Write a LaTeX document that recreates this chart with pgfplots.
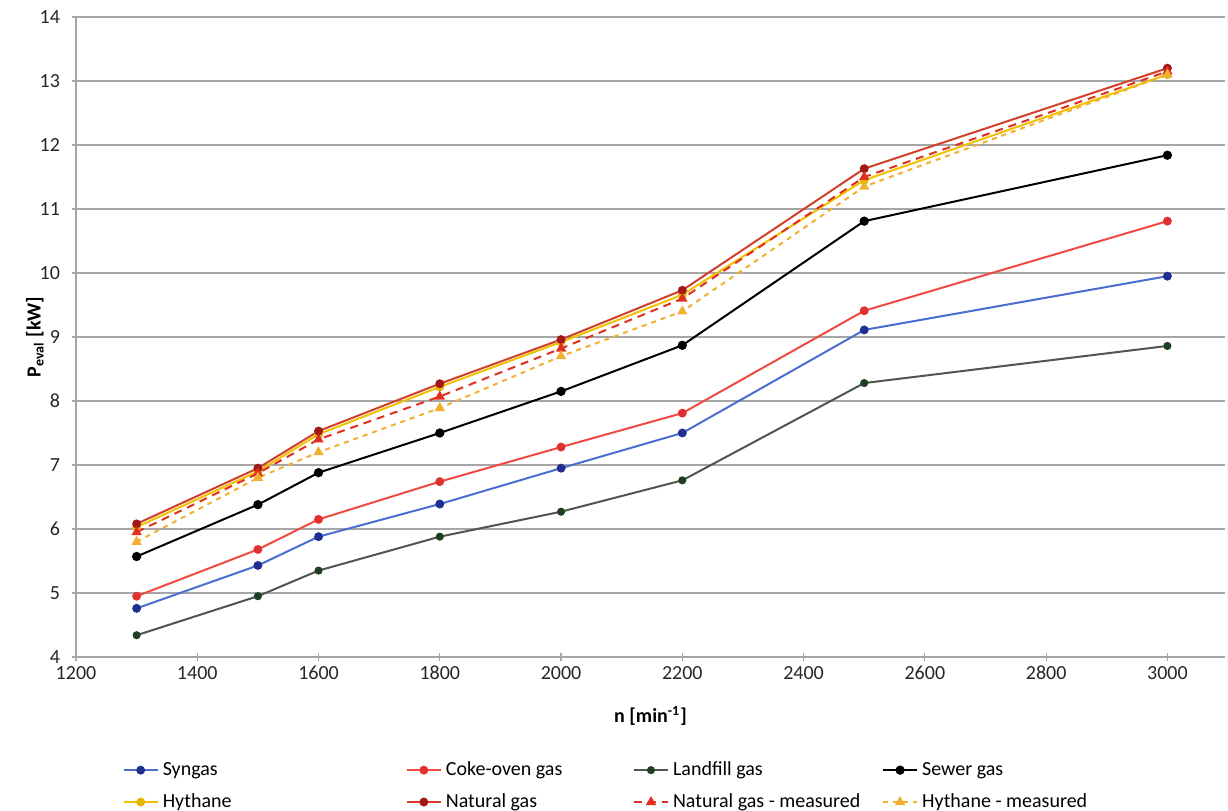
\documentclass[border=0pt]{standalone}
\usepackage{fontspec}
\setmainfont{Carlito}
\usepackage{pgfplots}
\pgfplotsset{compat=1.18}
\definecolor{gridgray}{HTML}{A6A6A6}
\definecolor{synline}{HTML}{4A6ED0}
\definecolor{synmark}{HTML}{1F2F8F}
\definecolor{cokeline}{HTML}{F04A40}
\definecolor{cokemark}{HTML}{E03030}
\definecolor{landline}{HTML}{505550}
\definecolor{landmark}{HTML}{1E4020}
\definecolor{hythline}{HTML}{F2C200}
\definecolor{hythmark}{HTML}{E8B400}
\definecolor{natline}{HTML}{D0402A}
\definecolor{natmark}{HTML}{A01818}
\definecolor{natmeas}{HTML}{E03020}
\definecolor{hythmeas}{HTML}{F2B030}
\begin{document}
\begin{tikzpicture}
\begin{axis}[name=ax, scale only axis, width=574.5pt, height=320pt,
 xmin=1200, xmax=3095, ymin=4, ymax=14,
 axis lines=left, axis line style={-, gridgray, line width=1.2pt},
 xtick={1200,1400,...,3000}, ytick={4,5,...,14},
 ymajorgrids, major grid style={gridgray, line width=1.2pt},
 tick style={gridgray, line width=0.6pt}, tick align=center, major tick length=4pt,
 /pgf/number format/assume math mode=true, /pgf/number format/1000 sep={},
 ticklabel style={font=\fontsize{10}{12}\selectfont, text=black!85},
 xticklabel style={yshift=1pt},
 yticklabel style={xshift=-2.5pt},
 xlabel={\textbf{n [min\textsuperscript{-1}]}},
 ylabel={\textbf{P\textsubscript{eval} [kW]}},
 label style={font=\fontsize{10}{12}\selectfont},
 xlabel style={at={(axis description cs:0.5,-0.092)}, anchor=center},
 ylabel style={at={(axis description cs:-0.0357,0.5)}, anchor=center, rotate=0},
 legend style={at={(axis description cs:0.035,-0.1505)}, anchor=north west, draw=none, fill=none,
   font=\fontsize{10}{12}\selectfont, row sep=3.5pt},
 legend columns=4,
 legend cell align=left,
 every axis plot/.append style={line width=1pt},
]
\addplot[synline, mark=*, mark size=1.7pt, mark options={fill=synmark, draw=synmark}] coordinates {
(1300,4.76) (1500,5.43) (1600,5.88) (1800,6.39) (2000,6.95) (2200,7.50) (2500,9.11) (3000,9.95)};
\addlegendentry{\makebox[119.5pt][l]{Syngas}}
\addplot[cokeline, mark=*, mark size=1.7pt, mark options={fill=cokemark, draw=cokemark}] coordinates {
(1300,4.95) (1500,5.68) (1600,6.15) (1800,6.74) (2000,7.28) (2200,7.81) (2500,9.41) (3000,10.81)};
\addlegendentry{\makebox[91.5pt][l]{Coke-oven gas}}
\addplot[landline, mark=*, mark size=1.5pt, mark options={fill=landmark, draw=landmark}] coordinates {
(1300,4.34) (1500,4.95) (1600,5.35) (1800,5.88) (2000,6.27) (2200,6.76) (2500,8.28) (3000,8.86)};
\addlegendentry{\makebox[102.5pt][l]{Landfill gas}}
\addplot[black, mark=*, mark size=1.8pt, mark options={fill=black}] coordinates {
(1300,5.57) (1500,6.38) (1600,6.88) (1800,7.50) (2000,8.15) (2200,8.87) (2500,10.81) (3000,11.84)};
\addlegendentry{Sewer gas}
\addplot[hythline, mark=*, mark size=1.7pt, mark options={fill=hythmark, draw=hythmark}] coordinates {
(1300,6.03) (1500,6.90) (1600,7.48) (1800,8.22) (2000,8.92) (2200,9.66) (2500,11.45) (3000,13.10)};
\addlegendentry{\makebox[119.5pt][l]{Hythane}}
\addplot[natline, mark=*, mark size=1.7pt, mark options={fill=natmark, draw=natmark}] coordinates {
(1300,6.08) (1500,6.95) (1600,7.53) (1800,8.27) (2000,8.96) (2200,9.73) (2500,11.63) (3000,13.20)};
\addlegendentry{\makebox[91.5pt][l]{Natural gas}}
\addplot[natmeas, dash pattern=on 4pt off 3pt, mark=triangle*, mark size=2pt, mark options={solid, fill=natmeas, draw=natmeas}] coordinates {
(1300,5.95) (1500,6.87) (1600,7.40) (1800,8.07) (2000,8.82) (2200,9.60) (2500,11.50) (3000,13.15)};
\addlegendentry{\makebox[102.5pt][l]{Natural gas - measured}}
\addplot[hythmeas, dash pattern=on 2.5pt off 2.5pt, mark=triangle*, mark size=2pt, mark options={solid, fill=hythmeas, draw=hythmeas}] coordinates {
(1300,5.80) (1500,6.80) (1600,7.20) (1800,7.89) (2000,8.70) (2200,9.40) (2500,11.35) (3000,13.10)};
\addlegendentry{Hythane - measured}
\end{axis}
\pgfresetboundingbox
\path ([xshift=-38pt,yshift=-77pt]ax.south west) rectangle ([xshift=1.5pt,yshift=8.5pt]ax.north east);
\end{tikzpicture}
\end{document}
